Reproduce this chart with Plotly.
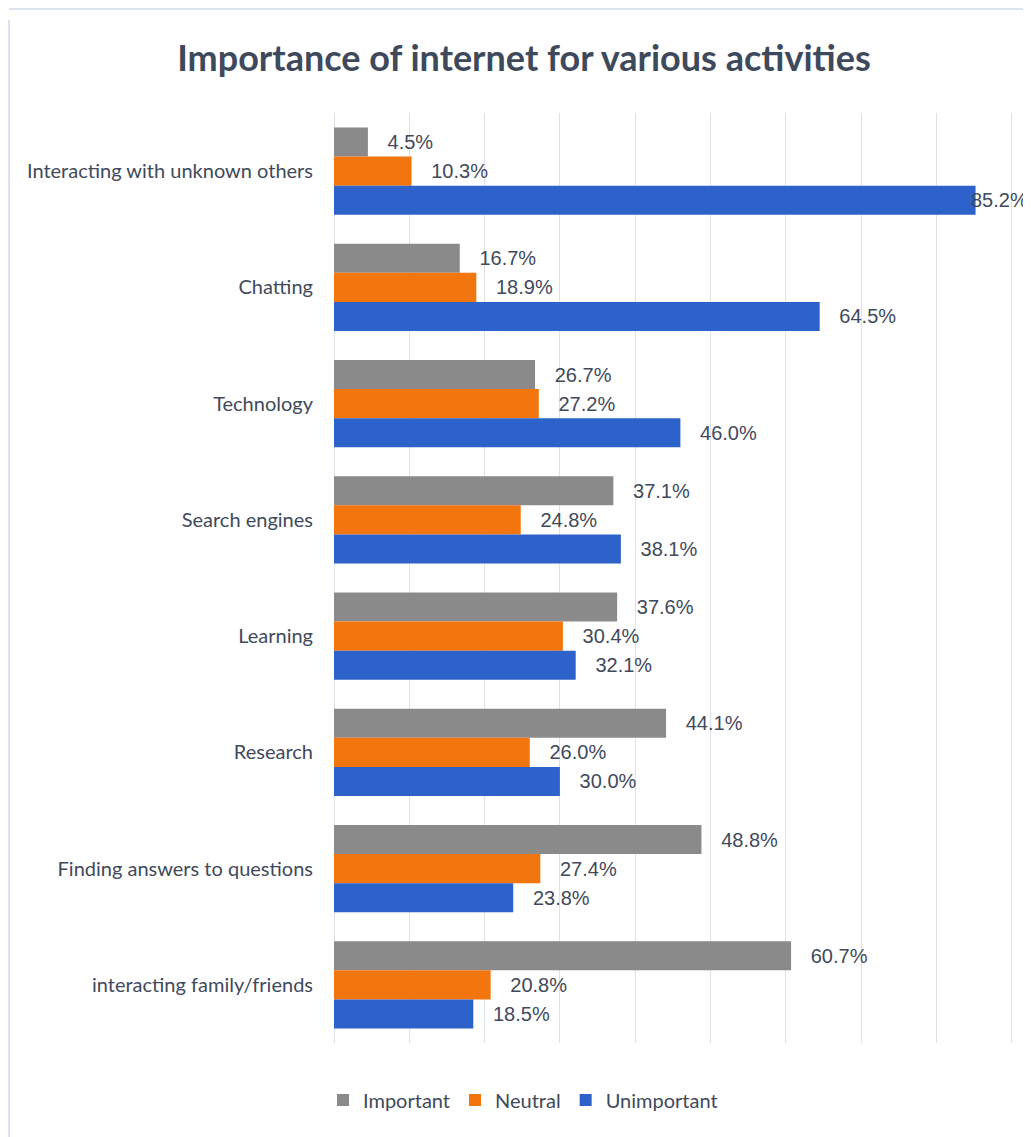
import plotly.graph_objects as go

categories = ["Interacting with unknown others", "Chatting", "Technology", "Search engines",
              "Learning", "Research", "Finding answers to questions", "interacting family/friends"]
important = [4.5, 16.7, 26.7, 37.1, 37.6, 44.1, 48.8, 60.7]
neutral = [10.3, 18.9, 27.2, 24.8, 30.4, 26.0, 27.4, 20.8]
unimportant = [85.2, 64.5, 46.0, 38.1, 32.1, 30.0, 23.8, 18.5]

series = [("Important", important, "#8a8a8a"),
          ("Neutral", neutral, "#f2750e"),
          ("Unimportant", unimportant, "#2e62cb")]

# page has an 8px body margin, so figure coords = page coords - 8
W, H = 1023, 1129
ML, MT, MB = 326, 105, 94
pw = W - ML
ph = H - MT - MB
xmax = pw / 75.3 * 10
label_font = dict(family='Liberation Sans, Arial', size=20, color='#3f4a5b')

fig = go.Figure()
annotations = []
for name, vals, col in series:
    # labels that would run off the right edge are placed as annotations instead
    texts = ['' if v > xmax - 8 else '\u00a0\u00a0\u00a0%.1f%%' % v for v in vals]
    for cat, v in zip(categories, vals):
        if v > xmax - 8:
            annotations.append((cat, v, name))
    fig.add_trace(go.Bar(
        y=categories, x=vals, name=name, orientation='h',
        marker=dict(color=col, line=dict(width=0)),
        text=texts, texttemplate='%{text}', textposition='outside',
        textfont=label_font, constraintext='none', cliponaxis=False,
    ))

# bar offset inside a group (3 bars, bargap 0.25)
offsets = {"Important": -0.25, "Neutral": 0.0, "Unimportant": 0.25}
for cat, v, name in annotations:
    idx = categories.index(cat)
    fig.add_annotation(x=v, y=idx + offsets[name], xref='x', yref='y',
                       text='%.1f%%' % v, showarrow=False, xanchor='left',
                       xshift=-7, font=label_font)

# light frame around the chart (left and top edges visible)
fig.add_shape(type='line', xref='paper', yref='paper',
              x0=(1 - ML) / pw, x1=(1 - ML) / pw, y0=-MB / ph, y1=(H - MT - 1) / ph,
              line=dict(color='#dde3ee', width=2))
fig.add_shape(type='line', xref='paper', yref='paper',
              x0=(1 - ML) / pw, x1=1.0, y0=(H - MB - 1) / ph, y1=(H - MB - 1) / ph,
              line=dict(color='#dde3ee', width=2))

fig.update_layout(
    width=W, height=H,
    margin=dict(l=ML, r=0, t=MT, b=MB),
    paper_bgcolor='white', plot_bgcolor='white',
    barmode='group', bargap=0.25, bargroupgap=0,
    title=dict(text='<b>Importance of internet for various activities</b>',
               x=516 / W, xanchor='center', y=1 - 50 / H, yanchor='middle',
               font=dict(family='Lato, Noto Sans', size=36, color='#3e4a5b')),
    xaxis=dict(range=[0, xmax], dtick=10, showticklabels=False,
               showgrid=True, gridcolor='#dde2ea', gridwidth=1, zeroline=True,
               zerolinecolor='#dde2ea', zerolinewidth=1, ticks=''),
    yaxis=dict(autorange='reversed', showgrid=False, ticks='', ticklabelstandoff=20,
               tickfont=dict(family='Lato, Noto Sans', size=20, color='#3f4a5b')),
    legend=dict(orientation='h', x=(515 - ML) / pw, xanchor='center',
                y=-57 / ph, yanchor='middle',
                font=dict(family='Lato, Noto Sans', size=20, color='#3f4a5b'),
                itemwidth=30, traceorder='normal'),
    showlegend=True,
)

fig.write_html("out.html")
